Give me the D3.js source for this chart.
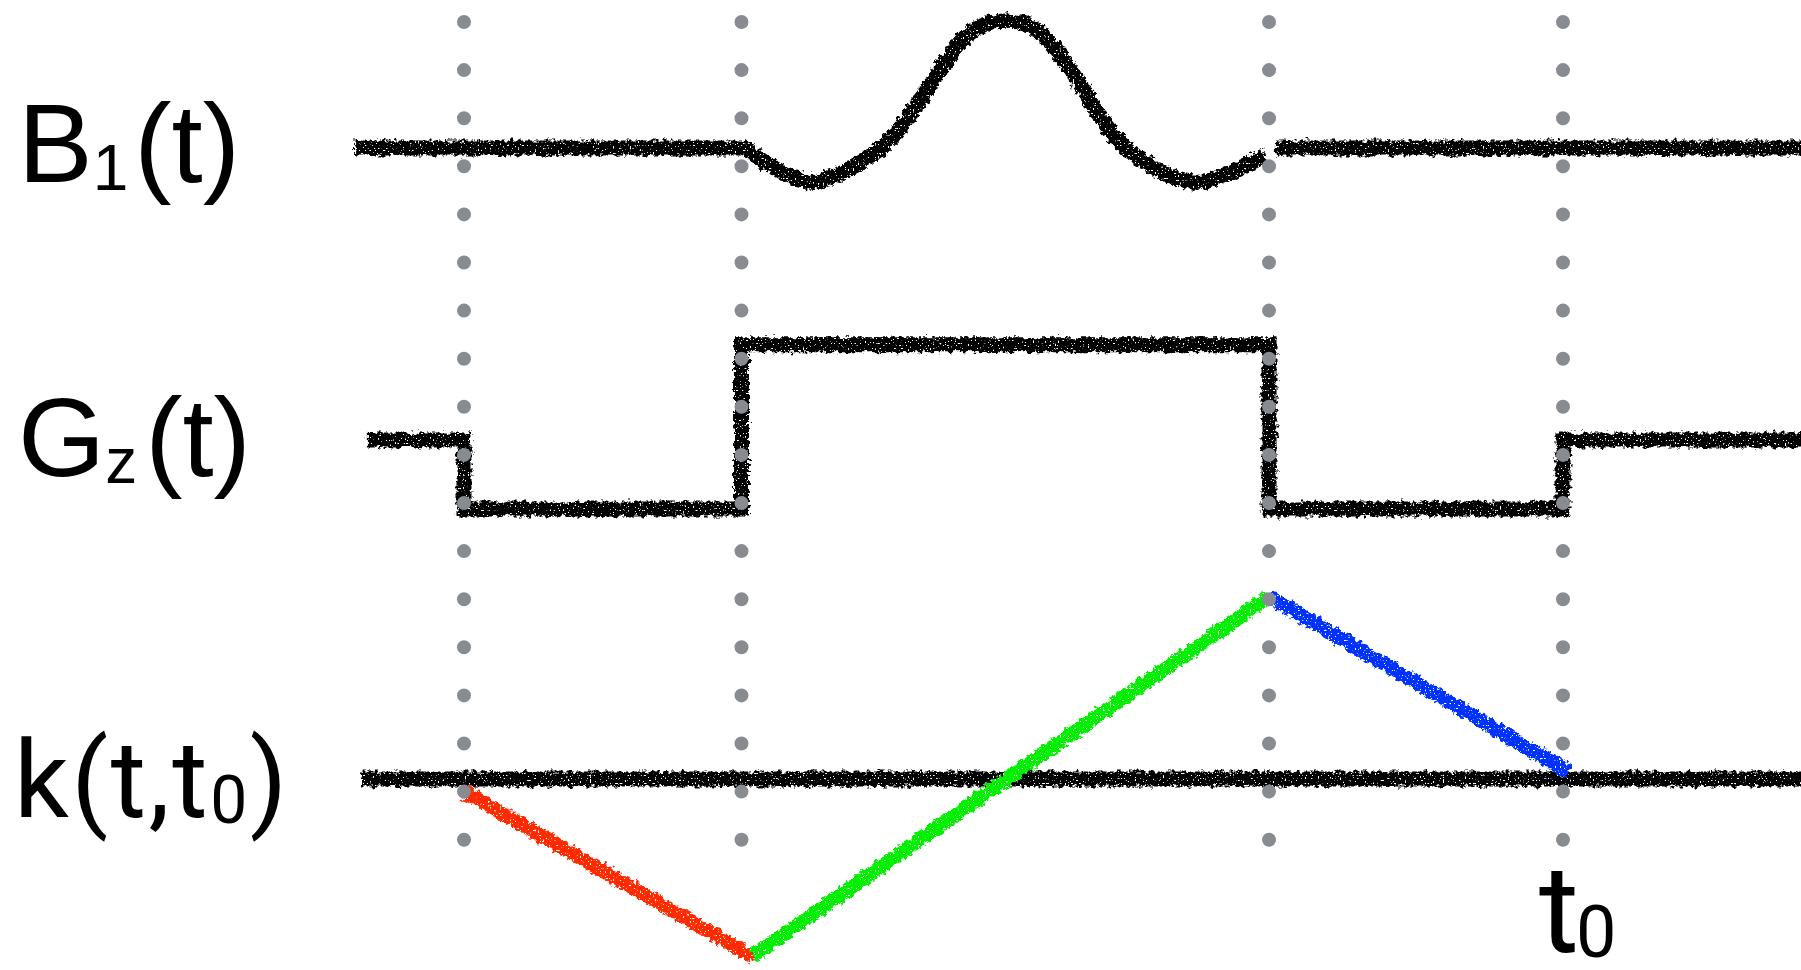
<!DOCTYPE html>
<html>
<head>
<meta charset="utf-8">
<script src="https://cdn.jsdelivr.net/npm/d3@7"></script>
<style>
  body { margin: 0; background: #fff; }
  svg { display: block; }
</style>
</head>
<body>
<script>
var W = 1801, H = 970

// tijdstippen van de grijze stippellijnen (ms)
var markers = [1, 2.01, 3.93, 5]

// RF puls B1(t): [t, amplitude]
var b1 = [[0.6, 0], [2.01, 0], [2.08, -0.09], [2.16, -0.19], [2.26, -0.27], [2.36, -0.21],
  [2.46, -0.09], [2.54, 0.04], [2.61, 0.22], [2.68, 0.44], [2.75, 0.67], [2.82, 0.86],
  [2.89, 0.97], [2.97, 1.0], [3.05, 0.97], [3.12, 0.86], [3.19, 0.67], [3.26, 0.44],
  [3.33, 0.2], [3.40, 0.02], [3.47, -0.1], [3.57, -0.22], [3.68, -0.27], [3.79, -0.19],
  [3.86, -0.12], [3.915, -0.07]]
var b1Tail = [[3.955, 0], [5.9, 0]]

// gradient Gz(t) in mT/m
var gz = [[0.65, 0], [1, 0], [1, -10], [2.01, -10], [2.01, 13.8], [3.93, 13.8],
  [3.93, -10], [5, -10], [5, 0], [5.9, 0]]

// k(t, t0): nullijn en de drie gekleurde stukken
var kBase = [[0.625, 0], [5.9, 0]]
var kRed = [[1.0, -0.07], [2.06, -1.0]]
var kGreen = [[2.05, -0.99], [3.93, 1.02]]
var kBlue = [[3.93, 1.02], [5.02, 0.04]]

var svg = d3.select("body").append("svg")
  .attr("width", W)
  .attr("height", H)

svg.append("rect").attr("width", W).attr("height", H).attr("fill", "#fff")

// krijt-achtige rafelige lijnen
var f = svg.append("defs").append("filter")
  .attr("id", "rough")
  .attr("filterUnits", "userSpaceOnUse")
  .attr("x", 0).attr("y", 0).attr("width", W).attr("height", H)
f.append("feTurbulence")
  .attr("type", "fractalNoise").attr("baseFrequency", 0.22).attr("numOctaves", 3)
  .attr("seed", 3).attr("result", "n1")
f.append("feDisplacementMap")
  .attr("in", "SourceGraphic").attr("in2", "n1").attr("scale", 9)
  .attr("xChannelSelector", "R").attr("yChannelSelector", "G").attr("result", "d")
f.append("feTurbulence")
  .attr("type", "fractalNoise").attr("baseFrequency", 0.6).attr("numOctaves", 1)
  .attr("seed", 11).attr("result", "n2")
f.append("feColorMatrix")
  .attr("in", "n2").attr("type", "matrix")
  .attr("values", "0 0 0 0 0  0 0 0 0 0  0 0 0 0 0  0 0 0 -15 10.6")
  .attr("result", "holes")
f.append("feComposite").attr("in", "d").attr("in2", "holes").attr("operator", "in")

var x = d3.scaleLinear().domain([1, 5]).range([464, 1563])
var yB = d3.scaleLinear().domain([0, 1]).range([148, 21])
var yG = d3.scaleLinear().domain([0, 10]).range([440, 371])
var yK = d3.scaleLinear().domain([0, 1]).range([779, 600])

function lineFor(y, curve) {
  return d3.line()
    .x(function(d) { return x(d[0]) })
    .y(function(d) { return y(d[1]) })
    .curve(curve || d3.curveLinear)
}

var ink = svg.append("g")
  .attr("filter", "url(#rough)")
  .attr("fill", "none")
  .attr("stroke-width", 15)
  .attr("stroke-linejoin", "miter")

ink.append("path").datum(b1)
  .attr("d", lineFor(yB, d3.curveMonotoneX))
  .attr("stroke", "#000")
ink.append("path").datum(b1Tail)
  .attr("d", lineFor(yB))
  .attr("stroke", "#000")
ink.append("path").datum(gz)
  .attr("d", lineFor(yG))
  .attr("stroke", "#000")
ink.append("path").datum(kBase)
  .attr("d", lineFor(yK))
  .attr("stroke", "#000")

// de gekleurde stukken van het k-pad
ink.selectAll("path.k")
  .data([[kRed, "#ff2a00"], [kGreen, "#00f000"], [kBlue, "#0033ff"]])
  .enter().append("path")
    .attr("class", "k")
    .attr("d", function(d) { return lineFor(yK)(d[0]) })
    .attr("stroke", function(d) { return d[1] })
    .attr("stroke-width", 14)

// grijze stippellijnen bovenop
svg.append("g").selectAll("line")
  .data(markers)
  .enter().append("line")
    .attr("x1", function(d) { return x(d) })
    .attr("x2", function(d) { return x(d) })
    .attr("y1", 22)
    .attr("y2", 846)
    .attr("stroke", "#888b90")
    .attr("stroke-width", 14)
    .attr("stroke-linecap", "round")
    .attr("stroke-dasharray", "0 48.1")

// labels
var arial = "'Liberation Sans', Arial, Helvetica, sans-serif"
var narrow = "Roboto, 'Liberation Sans', sans-serif"

var tB = svg.append("text").attr("x", 18).attr("y", 182)
  .attr("font-family", arial).attr("font-size", 112)
tB.append("tspan").text("B")
tB.append("tspan").attr("font-size", 64).attr("dy", 8).text("1")
tB.append("tspan").attr("dy", -8).attr("dx", 6).text("(t)")

var tG = svg.append("text").attr("x", 18).attr("y", 476)
  .attr("font-family", arial).attr("font-size", 112)
tG.append("tspan").text("G")
tG.append("tspan").attr("font-size", 64).attr("dy", 7).text("z")
tG.append("tspan").attr("dy", -7).attr("dx", 8).text("(t)")

var tK = svg.append("text").attr("x", 14).attr("y", 817)
  .attr("font-family", narrow).attr("font-size", 108)
  .attr("letter-spacing", 2.5)
tK.append("tspan").text("k(t,t")
tK.append("tspan").attr("font-size", 66).attr("dy", 6).text("0")
tK.append("tspan").attr("dy", -6).text(")")

var tT = svg.append("text").attr("x", 1539).attr("y", 952)
  .attr("font-family", narrow).attr("font-size", 122)
tT.append("tspan").text("t")
tT.append("tspan").attr("font-size", 72).attr("dy", 5).attr("dx", -3).text("0")
</script>
</body>
</html>
